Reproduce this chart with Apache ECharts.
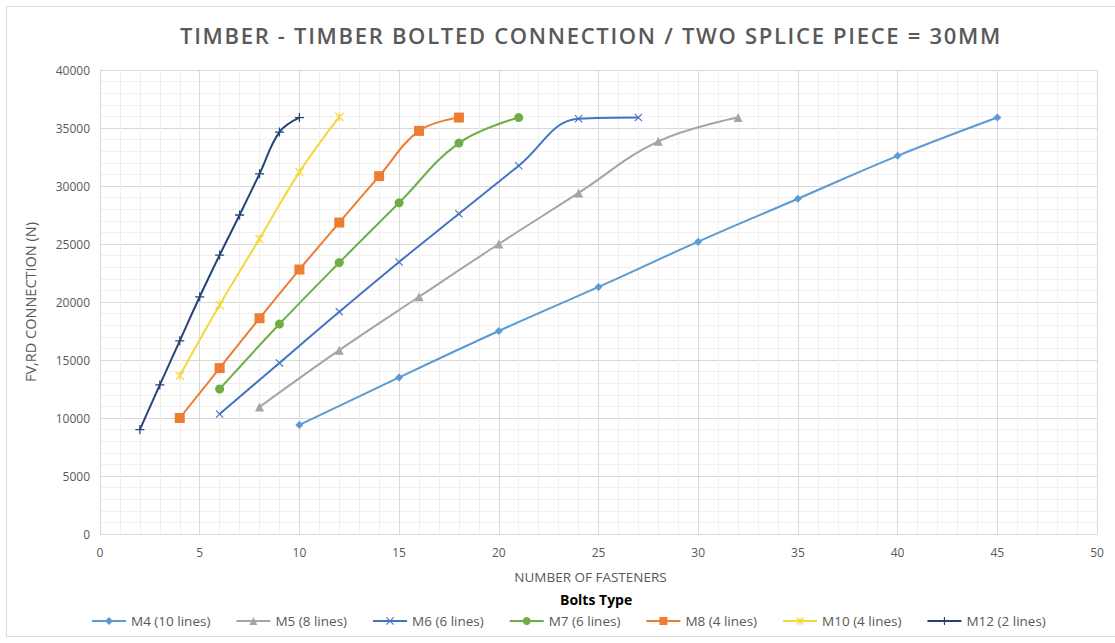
<!DOCTYPE html>
<html>
<head>
<meta charset="utf-8">
<script src="https://cdn.jsdelivr.net/npm/echarts@6/dist/echarts.min.js"></script>
<style>html,body{margin:0;padding:0;background:#fff}#c{width:1115px;height:643px}</style>
</head>
<body>
<div id="c"></div>
<script>
const chartTitle = 'TIMBER - TIMBER BOLTED CONNECTION / TWO SPLICE PIECE = 30MM';
const seriesNames = ['M4 (10 lines)','M5 (8 lines)','M6 (6 lines)','M7 (6 lines)','M8 (4 lines)','M10 (4 lines)','M12 (2 lines)'];
const m4x = [10,15,20,25,30,35,40,45];
const m4y = [9400,13500,17500,21300,25200,28900,32600,35900];
const m5x = [8,12,16,20,24,28,32];
const m5y = [10950,15850,20450,25000,29400,33850,35900];
const m6x = [6,9,12,15,18,21,24,27];
const m6y = [10350,14750,19150,23450,27600,31750,35800,35900];
const m7x = [6,9,12,15,18,21];
const m7y = [12500,18100,23400,28550,33700,35900];
const m8x = [4,6,8,10,12,14,16,18];
const m8y = [10000,14300,18600,22800,26850,30850,34750,35900];
const m10x = [4,6,8,10,12];
const m10y = [13650,19750,25450,31200,35950];
const m12x = [2,3,4,5,6,7,8,9,10];
const m12y = [9000,12850,16650,20450,24050,27500,31050,34650,35900];

const xs = [m4x,m5x,m6x,m7x,m8x,m10x,m12x];
const ys = [m4y,m5y,m6y,m7y,m8y,m10y,m12y];
const colors = ['#5B9BD5','#A5A5A5','#4472C4','#70AD47','#ED7D31','#F5D63C','#264478'];
const X = 'path://M0,1L1,0L5,4L9,0L10,1L6,5L10,9L9,10L5,6L1,10L0,9L4,5Z';
const PLUS = 'path://M4.3,0H5.7V4.3H10V5.7H5.7V10H4.3V5.7H0V4.3H4.3Z';
const STAR = 'path://M0,1L1,0L5,4L9,0L10,1L6,5L10,9L9,10L5,6L1,10L0,9L4,5Z M4.4,0H5.6V10H4.4Z';
const symbols = ['diamond','triangle',X,'circle','rect',STAR,PLUS];
const sizes = [8,9,8,9,10,9,9];

const chart = echarts.init(document.getElementById('c'), null, {renderer:'svg'});
const series = seriesNames.map((n,i)=>({
  name:n, type:'line', smooth:0.4,
  data: xs[i].map((x,j)=>[x, ys[i][j]]),
  symbol: symbols[i], symbolSize: sizes[i],
  lineStyle:{color:colors[i], width:2},
  itemStyle:{color:colors[i]},
  showSymbol:true
}));

chart.setOption({
  animation:false,
  backgroundColor:'#fff',
  title:[
    {text:chartTitle, left:175, top:19,
     textStyle:{fontFamily:'Open Sans', fontSize:22, fontWeight:600, color:'#595959'}},
    {text:'Bolts Type', left:555, top:587,
     textStyle:{fontFamily:'Open Sans', fontSize:14, fontWeight:'bold', color:'#000'}}
  ],
  graphic:[{type:'rect', shape:{x:6.5,y:6.5,width:1200,height:630}, style:{fill:'none', stroke:'#D9D9D9', lineWidth:1}, silent:true}],
  legend:{
    bottom:10, left:86, itemGap:25, itemWidth:34, itemHeight:10,
    textStyle:{fontFamily:'Open Sans', fontSize:13.5, color:'#595959'},
    data: seriesNames
  },
  grid:{left:100, right:18, top:70, bottom:109, containLabel:false},
  xAxis:{
    type:'value', min:0, max:50, interval:5,
    name:'NUMBER OF FASTENERS', nameLocation:'middle', nameGap:36,
    nameTextStyle:{fontFamily:'Open Sans', fontSize:13.5, color:'#595959', padding:[0,16,0,0]},
    axisLine:{show:true, lineStyle:{color:'#D9D9D9'}},
    axisTick:{show:false},
    axisLabel:{fontFamily:'Open Sans', fontSize:12, color:'#595959', margin:12},
    splitLine:{show:true, lineStyle:{color:'#D9D9D9'}},
    minorTick:{show:false, splitNumber:5},
    minorSplitLine:{show:true, lineStyle:{color:'#F0F0F0'}}
  },
  yAxis:{
    type:'value', min:0, max:40000, interval:5000,
    name:'FV,RD CONNECTION (N)', nameLocation:'middle', nameGap:62,
    nameTextStyle:{fontFamily:'Open Sans', fontSize:14.5, color:'#595959'},
    axisLine:{show:false},
    axisTick:{show:false},
    axisLabel:{fontFamily:'Open Sans', fontSize:12, color:'#595959', margin:10, formatter:function(v){return String(v);}},
    splitLine:{show:true, lineStyle:{color:'#D9D9D9'}},
    minorTick:{show:false, splitNumber:5},
    minorSplitLine:{show:true, lineStyle:{color:'#F0F0F0'}}
  },
  series: series
});
document.querySelectorAll('#c text').forEach(function(t){
  if (t.textContent === chartTitle) t.setAttribute('letter-spacing','1.7');
});
</script>
</body>
</html>
